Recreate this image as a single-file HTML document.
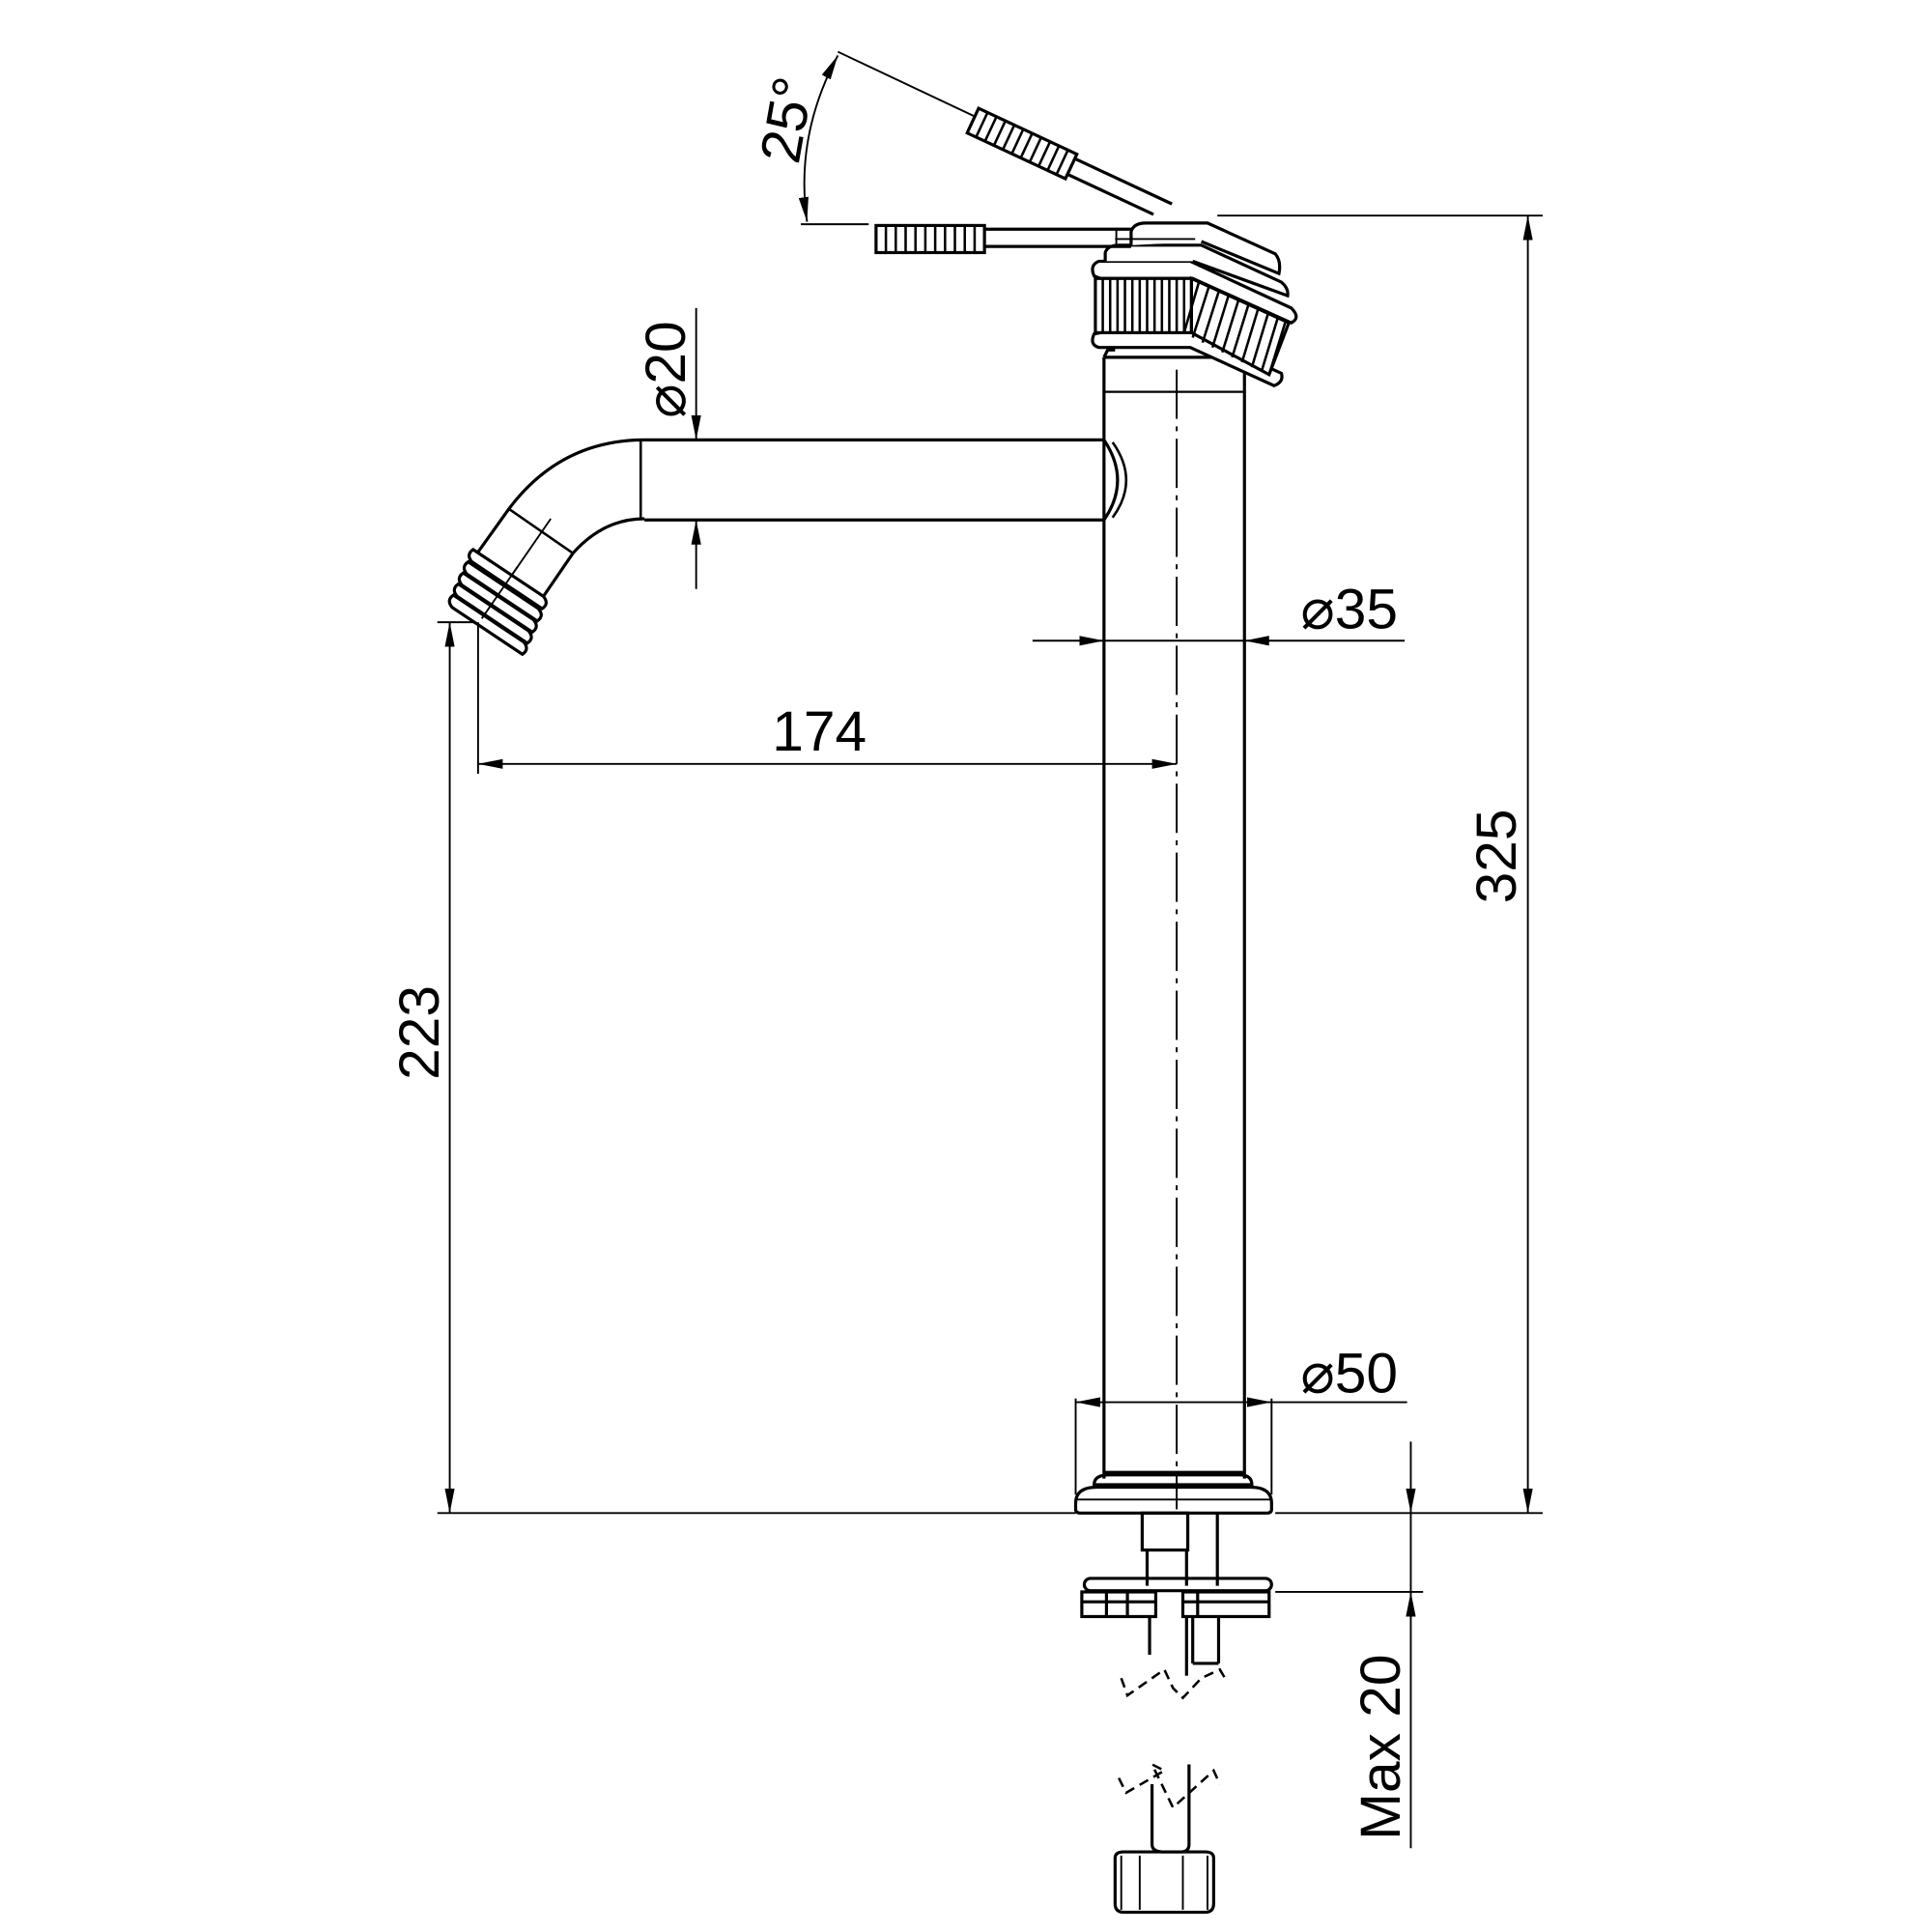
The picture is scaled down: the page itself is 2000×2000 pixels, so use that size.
<!DOCTYPE html>
<html><head><meta charset="utf-8"><style>html,body{margin:0;padding:0;background:#fff}svg{display:block}</style></head>
<body>
<svg width="2000" height="2000" viewBox="0 0 1568 1568" xmlns="http://www.w3.org/2000/svg" font-family="Liberation Sans, DejaVu Sans, sans-serif">
<defs>
<marker id="a" viewBox="0 0 20 8" refX="20" refY="4" markerWidth="20" markerHeight="8" markerUnits="userSpaceOnUse" orient="auto-start-reverse"><path d="M0,0 L20,4 L0,8 z" fill="#000"/></marker>
</defs>
<g fill="none" stroke="#000" stroke-width="2.5">
<!-- main pipe -->
<line x1="896" y1="290" x2="896" y2="1200"/>
<line x1="1010" y1="300" x2="1010" y2="1200"/>
<line x1="896" y1="290" x2="1000" y2="290"/>
<path d="M896,290 L899,284 L905,284"/>
<line x1="896" y1="318" x2="1010" y2="318" stroke-width="1.8"/>
<line x1="896" y1="1195" x2="1010" y2="1195"/>
<path d="M888,1205 Q888,1197 900,1197 L1006,1197 Q1016,1197 1016,1205 Z"/>
<path d="M873,1220 Q873,1207 890,1207 L1015,1207 Q1032,1207 1032,1220 L1032,1225 Q1032,1228 1028,1228 L877,1228 Q873,1228 873,1225 Z"/>
<line x1="873" y1="1217" x2="1032" y2="1217" stroke-width="1.5"/>
<!-- spout -->
<line x1="523" y1="357" x2="896" y2="357"/>
<line x1="523" y1="422" x2="896" y2="422"/>
<line x1="520" y1="357" x2="520" y2="422" stroke-width="2"/>
<path d="M523,357 Q455,357 413,413 L388,448"/>
<path d="M523,421 Q490,421 465,449 L441,484"/>
<line x1="413" y1="413" x2="465" y2="449" stroke-width="2"/>
<line x1="447" y1="421" x2="391" y2="502" stroke-width="1.5"/>
<path d="M896,357 Q918,390 896,422" />
<path d="M903,359 Q925,390 903,420" stroke-width="2"/>
<!-- nozzle threads (rings) -->
<g stroke-width="2.5">
<path d="M384,446 L441,484 Q446,490 440,494 L383,456 Q378,450 384,446 Z" fill="#fff"/>
<path d="M380,456 L437,494 Q442,500 436,504 L379,466 Q374,460 380,456 Z" fill="#fff"/>
<path d="M376,465 L433,503 Q438,509 432,513 L375,475 Q370,469 376,465 Z" fill="#fff"/>
<path d="M372,474 L429,512 Q434,518 428,522 L371,484 Q366,478 372,474 Z" fill="#fff"/>
<path d="M368,483 L425,521 Q430,527 424,531 L367,493 Q362,487 368,483 Z" fill="#fff"/>
</g>
<line x1="420" y1="460" x2="391" y2="502" stroke-width="1.5"/>
<!-- center line -->
<line x1="955" y1="300" x2="955" y2="1225" stroke-width="1.5" stroke-dasharray="40,6,4,6"/>
<!-- handle head -->
<path d="M888,224 Q884,215 892,212 L966,212 L1048,250 Q1056,258 1048,262 L968,226 L893,226 Z" fill="#fff"/>
<path d="M888,271 Q884,280 892,282 L966,282 L1034,313 Q1042,310 1040,303 L968,270 L893,270 Z" fill="#fff"/>
<rect x="889" y="226" width="78" height="44" fill="#fff"/>
<path d="M967,226 L1046,262 L1030,304 L967,270 Z" fill="#fff"/>
<g stroke-width="2">
<line x1="895" y1="226" x2="895" y2="270"/><line x1="901" y1="226" x2="901" y2="270"/><line x1="907" y1="226" x2="907" y2="270"/><line x1="913" y1="226" x2="913" y2="270"/><line x1="919" y1="226" x2="919" y2="270"/><line x1="925" y1="226" x2="925" y2="270"/><line x1="931" y1="226" x2="931" y2="270"/><line x1="937" y1="226" x2="937" y2="270"/><line x1="943" y1="226" x2="943" y2="270"/><line x1="949" y1="226" x2="949" y2="270"/><line x1="955" y1="226" x2="955" y2="270"/><line x1="961" y1="226" x2="961" y2="270"/>
<line x1="973" y1="229" x2="961" y2="270"/><line x1="981" y1="233" x2="968" y2="274"/><line x1="989" y1="237" x2="976" y2="278"/><line x1="997" y1="240" x2="984" y2="282"/><line x1="1005" y1="244" x2="992" y2="286"/><line x1="1013" y1="248" x2="1000" y2="290"/><line x1="1021" y1="251" x2="1008" y2="294"/><line x1="1029" y1="255" x2="1016" y2="298"/><line x1="1037" y1="258" x2="1024" y2="301"/><line x1="1043" y1="262" x2="1030" y2="304"/>
</g>
<path d="M897,212 L897,205 Q899,199 908,199 L975,199 L1040,229 Q1046,234 1045,240 L968,212" fill="#fff"/>
<path d="M918,199 L918,188 Q920,181 930,181 L980,181 L1035,206 Q1040,212 1038,222 L975,196" fill="#fff"/>
<line x1="905" y1="194" x2="970" y2="194" stroke-width="1.5"/>
<!-- horizontal lever -->
<line x1="800" y1="186" x2="918" y2="186"/>
<line x1="800" y1="200" x2="918" y2="200"/>
<line x1="906" y1="186" x2="906" y2="200" stroke-width="1.5"/>
<rect x="711" y="183" width="88" height="22"/>
<g stroke-width="2"><line x1="719" y1="183" x2="719" y2="205"/><line x1="727" y1="183" x2="727" y2="205"/><line x1="735" y1="183" x2="735" y2="205"/><line x1="743" y1="183" x2="743" y2="205"/><line x1="751" y1="183" x2="751" y2="205"/><line x1="759" y1="183" x2="759" y2="205"/><line x1="767" y1="183" x2="767" y2="205"/><line x1="775" y1="183" x2="775" y2="205"/><line x1="783" y1="183" x2="783" y2="205"/><line x1="791" y1="183" x2="791" y2="205"/></g>
<!-- tilted lever -->
<g transform="translate(790,97) rotate(25)">
<rect x="0" y="-10" width="88" height="22"/>
<g stroke-width="2"><line x1="8" y1="-10" x2="8" y2="12"/><line x1="16" y1="-10" x2="16" y2="12"/><line x1="24" y1="-10" x2="24" y2="12"/><line x1="32" y1="-10" x2="32" y2="12"/><line x1="40" y1="-10" x2="40" y2="12"/><line x1="48" y1="-10" x2="48" y2="12"/><line x1="56" y1="-10" x2="56" y2="12"/><line x1="64" y1="-10" x2="64" y2="12"/><line x1="72" y1="-10" x2="72" y2="12"/><line x1="80" y1="-10" x2="80" y2="12"/></g>
<line x1="88" y1="-6" x2="175" y2="-6"/><line x1="88" y1="8" x2="165" y2="8"/>
</g>
<!-- under-base parts -->
<rect x="927" y="1228" width="37" height="30"/>
<line x1="931" y1="1258" x2="931" y2="1287"/><line x1="963" y1="1258" x2="963" y2="1287"/>
<line x1="988" y1="1228" x2="988" y2="1287"/>
<rect x="880" y="1281" width="152" height="10" rx="5"/>
<rect x="878" y="1292" width="60" height="20"/><line x1="878" y1="1300" x2="938" y2="1300"/><line x1="898" y1="1292" x2="898" y2="1312"/><line x1="915" y1="1292" x2="915" y2="1312"/>
<rect x="960" y="1292" width="70" height="20"/><line x1="960" y1="1300" x2="1030" y2="1300"/><line x1="972" y1="1292" x2="972" y2="1312"/>
<line x1="933" y1="1312" x2="933" y2="1343"/><line x1="963" y1="1312" x2="963" y2="1360"/>
<line x1="968" y1="1312" x2="968" y2="1350"/><line x1="989" y1="1312" x2="989" y2="1350"/><line x1="968" y1="1350" x2="989" y2="1350"/>
<g stroke-dasharray="8,5" stroke-width="2"><path d="M910,1362 L915,1376 L945,1355 L952,1370 L960,1378 L975,1362 L990,1355 L996,1365"/><path d="M908,1443 L914,1455 L945,1437 L935,1432 L952,1467 L985,1437 L990,1448"/></g>
<path d="M935,1448 L935,1497 Q935,1503 945,1503 L958,1503 Q965,1503 965,1497 L965,1432"/>
<path d="M905,1508 Q905,1503 912,1503 L978,1503 Q985,1503 985,1508 L985,1545 Q985,1552 978,1552 L912,1552 Q905,1552 905,1545 Z"/>
<line x1="910" y1="1506" x2="910" y2="1550" stroke-width="1.5"/><line x1="980" y1="1506" x2="980" y2="1550" stroke-width="1.5"/>
<line x1="925" y1="1506" x2="925" y2="1550" stroke-width="1.5"/><line x1="960" y1="1506" x2="960" y2="1550" stroke-width="1.5"/>
</g>
<!-- dimensions -->
<g fill="none" stroke="#000" stroke-width="1.5">
<line x1="988" y1="175" x2="1252" y2="175"/>
<line x1="1035" y1="1228" x2="1252" y2="1228"/>
<line x1="1240" y1="175" x2="1240" y2="1228" marker-start="url(#a)" marker-end="url(#a)"/>
<line x1="355" y1="505" x2="385" y2="505"/>
<line x1="355" y1="1228" x2="873" y2="1228"/>
<line x1="365" y1="505" x2="365" y2="1228" marker-start="url(#a)" marker-end="url(#a)"/>
<line x1="388" y1="505" x2="388" y2="628"/>
<line x1="388" y1="620" x2="955" y2="620" marker-start="url(#a)" marker-end="url(#a)"/>
<line x1="838" y1="520" x2="896" y2="520" marker-end="url(#a)"/>
<line x1="896" y1="520" x2="1010" y2="520"/>
<line x1="1140" y1="520" x2="1010" y2="520" marker-end="url(#a)"/>
<line x1="873" y1="1135" x2="873" y2="1213"/><line x1="1032" y1="1135" x2="1032" y2="1213"/>
<line x1="873" y1="1138" x2="1032" y2="1138" marker-start="url(#a)" marker-end="url(#a)"/>
<line x1="1032" y1="1138" x2="1142" y2="1138"/>
<line x1="565" y1="250" x2="565" y2="357" marker-end="url(#a)"/>
<line x1="565" y1="478" x2="565" y2="422" marker-end="url(#a)"/>
<line x1="650" y1="182" x2="705" y2="182"/>
<line x1="680" y1="42" x2="790" y2="94"/>
<path d="M680,45 Q645,110 655,180" marker-start="url(#a)" marker-end="url(#a)"/>
<line x1="1035" y1="1292" x2="1155" y2="1292"/>
<line x1="1145" y1="1170" x2="1145" y2="1228" marker-end="url(#a)"/>
<line x1="1145" y1="1228" x2="1145" y2="1292"/>
<line x1="1145" y1="1500" x2="1145" y2="1292" marker-end="url(#a)"/>
</g>
<g fill="#000" font-size="46">
<text x="665" y="609" text-anchor="middle">174</text>
<text x="1095" y="510" text-anchor="middle">⌀35</text>
<text x="1095" y="1130" text-anchor="middle">⌀50</text>
<text transform="translate(1230,695) rotate(-90)" text-anchor="middle">325</text>
<text transform="translate(356,838) rotate(-90)" text-anchor="middle">223</text>
<text transform="translate(556,300) rotate(-90)" text-anchor="middle">⌀20</text>
<text transform="translate(654,100) rotate(-80)" text-anchor="middle">25°</text>
<text transform="translate(1136,1418) rotate(-90)" text-anchor="middle">Max 20</text>
</g>
</svg>
</body></html>
